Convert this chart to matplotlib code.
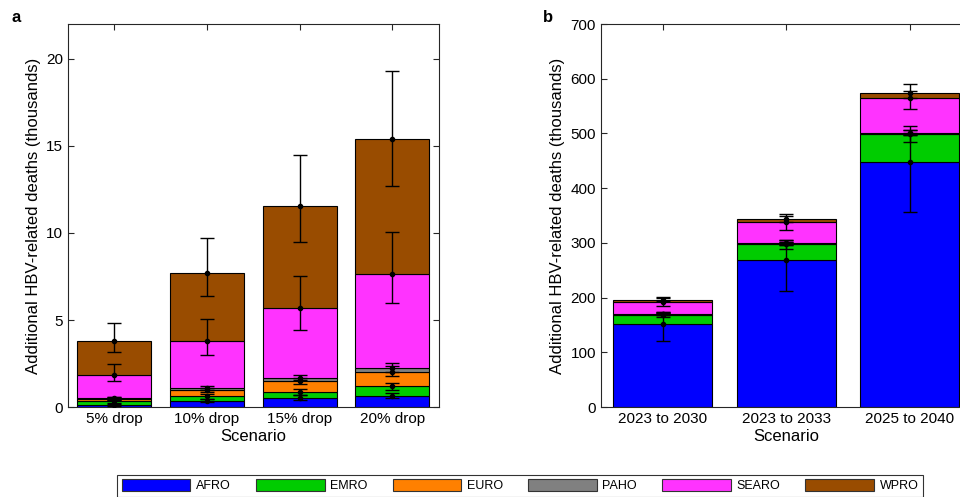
import numpy as np
import matplotlib
matplotlib.use('Agg')
import matplotlib.pyplot as plt
from matplotlib.patches import Patch

plt.rcParams['font.family'] = ['Liberation Sans', 'DejaVu Sans']

###########
# Datos a #
###########

regiones = ['AFRO', 'EMRO', 'EURO', 'PAHO', 'SEARO', 'WPRO']
colores = ['#0000FF', '#00CC00', '#FF8000', '#808080', '#FF33FF', '#994C00']

escenarios_a = ['5% drop', '10% drop', '15% drop', '20% drop']
# muertes por region (miles), una lista por region
afro_a  = [0.14, 0.37, 0.54, 0.66]
emro_a  = [0.19, 0.24, 0.34, 0.57]
euro_a  = [0.13, 0.37, 0.60, 0.78]
paho_a  = [0.08, 0.11, 0.19, 0.23]
searo_a = [1.32, 2.70, 4.04, 5.39]
wpro_a  = [1.96, 3.89, 5.82, 7.76]
# limites inferior / superior del acumulado
bajo_a = [[0.08, 0.30, 0.40, 0.50],
          [0.25, 0.45, 0.70, 0.96],
          [0.38, 0.85, 1.30, 1.80],
          [0.48, 1.00, 1.55, 2.00],
          [1.48, 2.97, 4.45, 5.95],
          [3.16, 6.35, 9.50, 12.70]]
alto_a = [[0.20, 0.45, 0.68, 0.82],
          [0.42, 0.75, 1.05, 1.40],
          [0.55, 1.12, 1.68, 2.34],
          [0.60, 1.20, 1.85, 2.53],
          [2.49, 5.05, 7.55, 10.05],
          [4.85, 9.70, 14.50, 19.30]]

###########
# Datos b #
###########

escenarios_b = ['2023 to 2030', '2023 to 2033', '2025 to 2040']
afro_b  = [152.0, 268.0, 448.5]
emro_b  = [17.0, 30.5, 50.5]
euro_b  = [0.4, 0.6, 1.0]
paho_b  = [0.3, 0.4, 0.5]
searo_b = [22.0, 38.5, 63.5]
wpro_b  = [4.8, 6.0, 10.5]
bajo_b = [[120, 212, 357],
          [165, 289, 485],
          [168, 296, 497],
          [168, 297, 498],
          [185.5, 324, 544],
          [193, 338, 565]]
alto_b = [[174, 306, 500],
          [174, 306, 514],
          [172, 302, 506],
          [172, 302, 506],
          [199, 349, 578],
          [201.5, 353, 591]]


def apilar(ax, etiquetas, series, bajo, alto):
    x = np.arange(1, len(etiquetas) + 1)
    base = np.zeros(len(x))
    for serie, color in zip(series, colores):
        ax.bar(x, serie, 0.8, bottom=base, color=color,
               edgecolor='black', linewidth=0.8, zorder=2)
        base = base + np.array(serie)
    base = np.zeros(len(x))
    for i, serie in enumerate(series):
        base = base + np.array(serie)
        err = [base - np.array(bajo[i]), np.array(alto[i]) - base]
        ax.errorbar(x, base, yerr=err, fmt='.', color='black',
                    markersize=6, capsize=5, elinewidth=1, capthick=1, zorder=3)
    ax.set_xticks(x)
    ax.set_xticklabels(etiquetas)
    ax.set_xlim(0.5, len(x) + 0.5)
    ax.tick_params(direction='in', top=True, right=True, length=4,
                   labelsize=11, color='#262626')
    for s in ax.spines.values():
        s.set_color('#262626')
        s.set_linewidth(0.8)
    ax.set_xlabel('Scenario', fontsize=12, labelpad=2)
    ax.set_ylabel('Additional HBV-related deaths (thousands)', fontsize=12)


fig = plt.figure(figsize=(9.6, 4.97), dpi=100)
ax_a = fig.add_axes([0.0708, 0.181, 0.386, 0.7706])
ax_b = fig.add_axes([0.626, 0.181, 0.386, 0.7706])

apilar(ax_a, escenarios_a, [afro_a, emro_a, euro_a, paho_a, searo_a, wpro_a],
       bajo_a, alto_a)
ax_a.set_ylim(0, 22)
ax_a.set_yticks([0, 5, 10, 15, 20])

apilar(ax_b, escenarios_b, [afro_b, emro_b, euro_b, paho_b, searo_b, wpro_b],
       bajo_b, alto_b)
ax_b.set_ylim(0, 700)
ax_b.set_yticks(np.arange(0, 701, 100))

fig.text(0.012, 0.955, 'a', fontsize=12, fontweight='bold')
fig.text(0.566, 0.955, 'b', fontsize=12, fontweight='bold')

manejadores = [Patch(facecolor=c, edgecolor='#333333', linewidth=0.8) for c in colores]
leg = fig.legend(manejadores, regiones, loc='lower center', ncol=6,
                 bbox_to_anchor=(0.5417, -0.012), fontsize=9, frameon=True,
                 handlelength=5.5, handleheight=1.1, handletextpad=0.45,
                 columnspacing=2.0, borderpad=0.35, fancybox=False)
leg.get_frame().set_edgecolor('black')
leg.get_frame().set_linewidth(0.8)

fig.savefig('out.png', dpi=100)
